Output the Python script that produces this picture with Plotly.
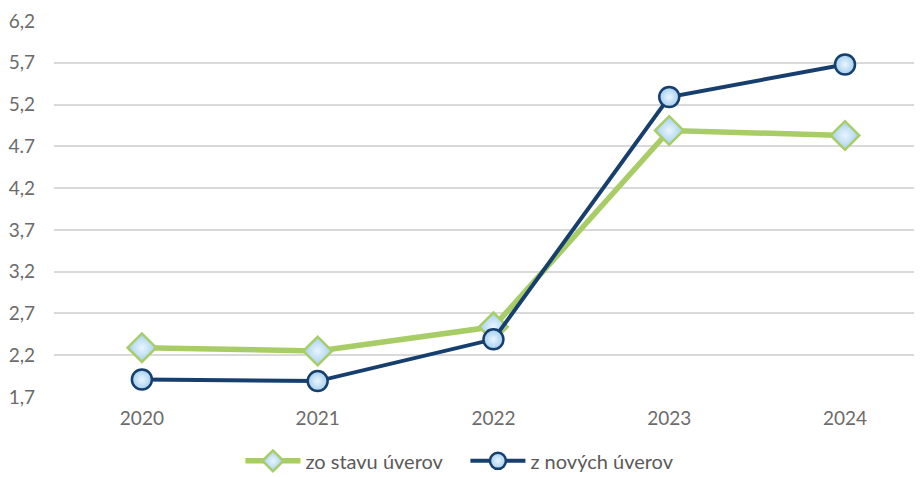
import plotly.graph_objects as go

years = ["2020", "2021", "2022", "2023", "2024"]
zo_stavu = [2.29, 2.25, 2.54, 4.89, 4.83]
z_novych = [1.91, 1.89, 2.39, 5.29, 5.68]
y_tickvals = [1.7, 2.2, 2.7, 3.2, 3.7, 4.2, 4.7, 5.2, 5.7, 6.2]
y_ticktext = ["1,7", "2,2", "2,7", "3,2", "3,7", "4,2", "4.7", "5,2", "5,7", "6,2"]

xpos = list(range(len(years)))

green = "#a8cd66"
navy = "#173f6e"
fill = "#a3cfee"
highlight = "#eaf5fd"

fig = go.Figure()
fig.add_trace(go.Scatter(
    x=xpos, y=zo_stavu, name="zo stavu úverov", mode="lines+markers",
    line=dict(color=green, width=5.5),
    marker=dict(symbol="diamond", size=22, color=fill,
                gradient=dict(type="radial", color=highlight),
                line=dict(color=green, width=2.5)),
))
fig.add_trace(go.Scatter(
    x=xpos, y=z_novych, name="z nových úverov", mode="lines+markers",
    line=dict(color=navy, width=4),
    marker=dict(symbol="circle", size=20, color=fill,
                gradient=dict(type="radial", color=highlight),
                line=dict(color=navy, width=2.5)),
))

fig.update_layout(
    width=914, height=469,
    margin=dict(l=46, r=0, t=13, b=80, autoexpand=False),
    paper_bgcolor="white", plot_bgcolor="white",
    font=dict(family="Lato, sans-serif", size=19, color="#6b6b6b"),
    showlegend=True,
    legend=dict(orientation="h", x=0.474, xanchor="center", y=-0.118, yanchor="top",
                font=dict(size=20, color="#5a5a5a"), itemwidth=55,
                entrywidth=155, entrywidthmode="pixels", traceorder="normal"),
    xaxis=dict(range=[-0.5, 4.438], tickvals=xpos, ticktext=years,
               showgrid=False, zeroline=False, showline=False, ticks="",
               ticklabelstandoff=8, automargin=False),
    yaxis=dict(range=[1.7, 6.2], tickvals=y_tickvals, ticktext=y_ticktext,
               showgrid=True, gridcolor="#d9d9d9", gridwidth=1.5,
               zeroline=False, showline=False, ticks="", ticklabelstandoff=18,
               automargin=False),
)

fig.write_html("out.html")
